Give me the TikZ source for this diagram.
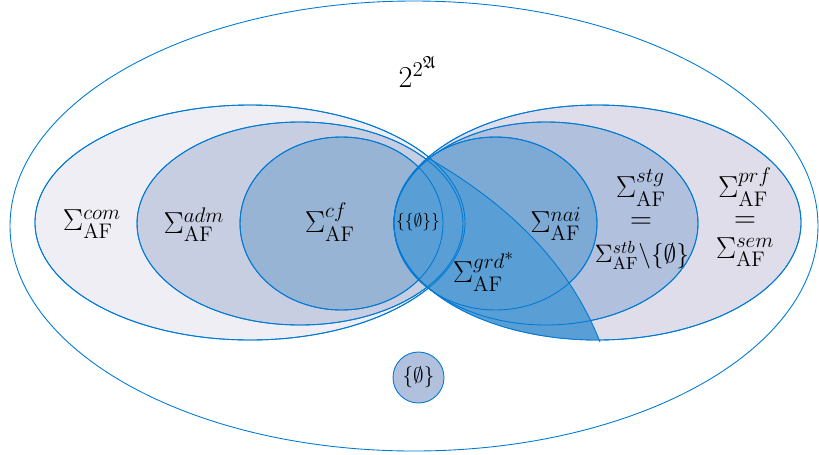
\documentclass[tikz,border=0pt]{standalone}
\usepackage{tikz}
\usepackage{amsmath}
\usepackage{amssymb}
\definecolor{linea}{RGB}{0,122,212}
\definecolor{comfill}{RGB}{240,238,245}
\definecolor{admfill}{RGB}{200,206,226}
\definecolor{cffill}{RGB}{151,180,213}
\definecolor{prffill}{RGB}{222,221,233}
\definecolor{stgfill}{RGB}{177,193,221}
\definecolor{naifill}{RGB}{125,169,213}
\definecolor{grdfill}{RGB}{89,159,213}

\begin{document}
\begin{tikzpicture}[
    x=0.02cm, y=-0.02cm,
    conj/.style={draw=linea, line width=0.5pt},
    lbl/.style={font=\LARGE, inner sep=0pt},
    chico/.style={font=\large, inner sep=0pt},
]
\useasboundingbox (0,0) rectangle (819,454);

% Universo
\draw[conj] (414,226) ellipse [x radius=404, y radius=225];

% Grupo izquierdo
\draw[conj, fill=comfill] (250,222.5) ellipse [x radius=215, y radius=117.5];
\draw[conj, fill=admfill] (300,223.5) ellipse [x radius=163, y radius=101.5];
\draw[conj, fill=cffill] (341.5,223.5) ellipse [x radius=101.5, y radius=86.5];

% Grupo derecho
\draw[conj, fill=prffill] (597.5,222.5) ellipse [x radius=203.5, y radius=117.5];
\draw[conj, fill=stgfill] (546,223.5) ellipse [x radius=152, y radius=101.5];
\draw[conj, fill=naifill] (495.5,223.5) ellipse [x radius=101.5, y radius=86.5];

% Region grd
\begin{scope}
  \clip (597.5,222.5) ellipse [x radius=203.5, y radius=117.5];
  \fill[grdfill] (428,158) .. controls (510,205) and (570,265) .. (600,342)
    -- (600,420) -- (380,420) -- (380,150) -- cycle;
\end{scope}

% Bordes encima
\draw[conj] (250,222.5) ellipse [x radius=215, y radius=117.5];
\draw[conj] (300,223.5) ellipse [x radius=163, y radius=101.5];
\draw[conj] (341.5,223.5) ellipse [x radius=101.5, y radius=86.5];
\draw[conj] (597.5,222.5) ellipse [x radius=203.5, y radius=117.5];
\draw[conj] (546,223.5) ellipse [x radius=152, y radius=101.5];
\draw[conj] (495.5,223.5) ellipse [x radius=101.5, y radius=86.5];
\draw[conj] (428,158) .. controls (510,205) and (570,265) .. (600,342);

% Conjunto vacio
\draw[conj, fill=stgfill] (418.5,377.5) circle [radius=25.5];

% Etiquetas
\node[lbl] (lpot) at (418,72) {$2^{2^{\mathfrak{A}}}$};
\node[lbl] (lcom) at (92,224) {$\Sigma^{com}_{\mathrm{AF}}$};
\node[lbl] (ladm) at (194,225) {$\Sigma^{adm}_{\mathrm{AF}}$};
\node[lbl] (lcf) at (330,222) {$\Sigma^{cf}_{\mathrm{AF}}$};
\node[font=\normalsize, inner sep=0pt] (lvacvac) at (418,222) {$\{\{\emptyset\}\}$};
\node[lbl] (lnai) at (556,224) {$\Sigma^{nai}_{\mathrm{AF}}$};
\node[lbl] (lgrd) at (484,272) {$\Sigma^{grd^*}_{\mathrm{AF}}$};
\node[lbl] (lstg) at (641,188) {$\Sigma^{stg}_{\mathrm{AF}}$};
\node[lbl] (leqa) at (641,223) {$=$};
\node[font=\Large, inner sep=0pt] (lstb) at (642,255) {$\Sigma^{stb}_{\mathrm{AF}}\backslash\{\emptyset\}$};
\node[lbl] (lprf) at (745,187) {$\Sigma^{prf}_{\mathrm{AF}}$};
\node[lbl] (leqb) at (745,222) {$=$};
\node[lbl] (lsem) at (745,252) {$\Sigma^{sem}_{\mathrm{AF}}$};
\node[chico] (lvac) at (418.5,377.5) {$\{\emptyset\}$};

\end{tikzpicture}
\end{document}
